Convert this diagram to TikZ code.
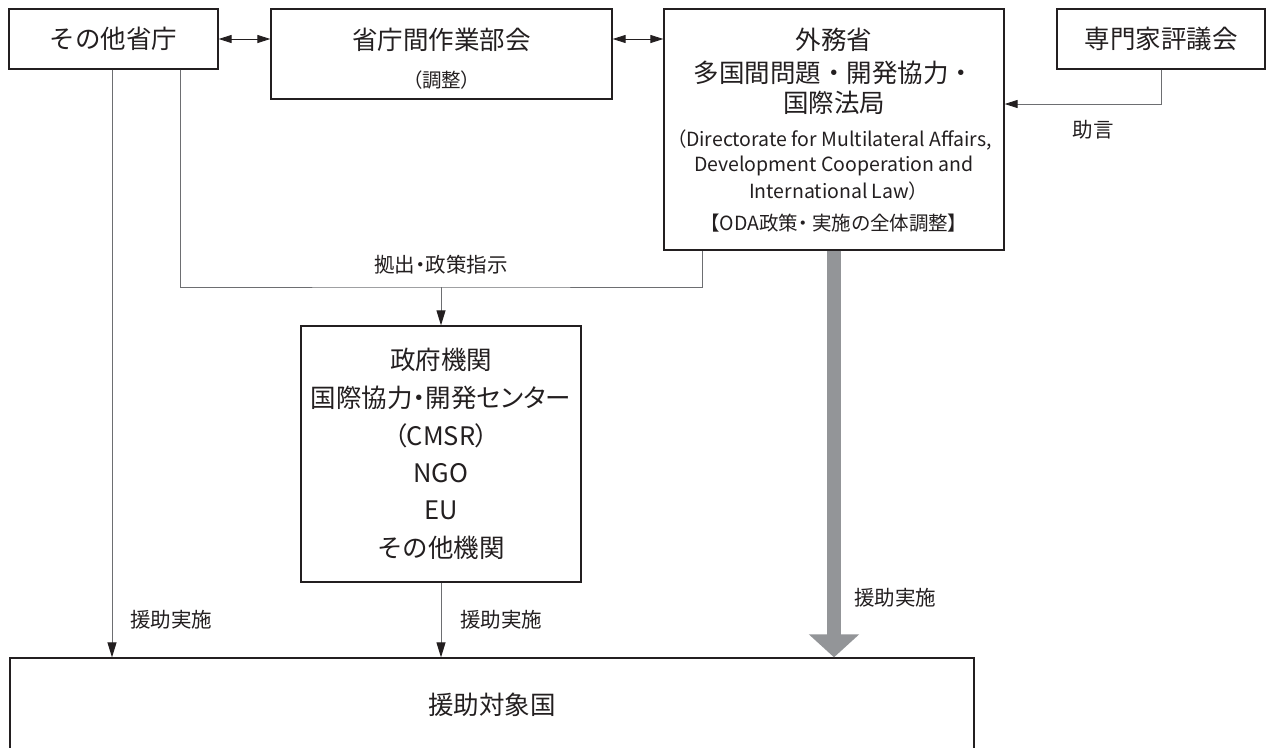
\documentclass[tikz,border=0pt]{standalone}
\usepackage{fontspec}
\setmainfont{Noto Sans CJK JP}
\newfontfamily\pfont[RawFeature=+palt]{Noto Sans CJK JP}
\usetikzlibrary{arrows.meta}
\definecolor{ink}{HTML}{231F20}
\definecolor{linegray}{HTML}{6D6E71}
\definecolor{bargray}{HTML}{939598}
\tikzset{
  boxnode/.style={draw=ink, line width=1.3pt, inner sep=0pt, fill=white},
  bigtxt/.style={text=ink, inner sep=0pt, font=\fontsize{25.5}{30}\selectfont},
  midtxt/.style={text=ink, inner sep=0pt, font=\pfont\fontsize{19.5}{24}\selectfont},
  smalltxt/.style={text=ink, inner sep=0pt, font=\pfont\fontsize{19.5}{22}\selectfont},
  lbltxt/.style={text=ink, inner sep=0pt, font=\pfont\fontsize{20.5}{24}\selectfont},
  conn/.style={draw=linegray, line width=0.9pt},
  arr/.style={conn, -{Triangle[length=15pt,width=9pt,color=ink]}},
  dblarr/.style={draw=ink, line width=0.9pt, {Triangle[length=13pt,width=8pt]}-{Triangle[length=13pt,width=8pt]}},
  bigarr/.style={draw=bargray, line width=14pt, -{Triangle[length=23pt,width=49pt]}}
}
\begin{document}
\begin{tikzpicture}[x=1pt,y=-1pt]
\useasboundingbox (0,0) rectangle (1266,747);
\clip (0,0) rectangle (1266,747);
\fill[white] (0,0) rectangle (1266,747);

% boxes
\node[boxnode, minimum width=209pt, minimum height=60pt] (other) at (113.5,39) {};
\node[boxnode, minimum width=341pt, minimum height=90pt] (wg) at (441.5,54) {};
\node[boxnode, minimum width=340pt, minimum height=241pt] (mofa) at (834,129.5) {};
\node[boxnode, minimum width=208pt, minimum height=60pt] (expert) at (1161,39) {};
\node[boxnode, minimum width=280pt, minimum height=256pt] (cmsr) at (441,454) {};
\node[boxnode, minimum width=964pt, minimum height=160pt] (recip) at (492,738) {};

% texts
\node[bigtxt] (t1) at (113.5,39) {その他省庁};
\node[bigtxt] (t2) at (441.5,40) {省庁間作業部会};
\node[smalltxt] (t3) at (441.5,80) {（調整）};
\node[bigtxt] (t4) at (1161,39) {専門家評議会};

\node[bigtxt] (m1) at (834,40) {外務省};
\node[bigtxt] (m2) at (834,73) {多国間問題・開発協力・};
\node[bigtxt] (m3) at (834,103) {国際法局};
\node[midtxt] (m4) at (834,140) {（Directorate for Multilateral Affairs,};
\node[midtxt] (m5) at (834,166) {Development Cooperation and};
\node[midtxt] (m6) at (834,191) {International Law）};
\node[midtxt] (m7) at (834,223) {【ODA政策・ 実施の全体調整】};

\node[bigtxt] (c1) at (441,360) {政府機関};
\node[bigtxt, font=\pfont\fontsize{25.5}{30}\selectfont] (c2) at (441,398) {国際協力・開発センター};
\node[bigtxt, font=\pfont\fontsize{25.5}{30}\selectfont] (c3) at (441,436) {（CMSR）};
\node[bigtxt] (c4) at (441,473) {NGO};
\node[bigtxt] (c5) at (441,510) {EU};
\node[bigtxt] (c6) at (441,548) {その他機関};

\node[bigtxt] (r1) at (492,705) {援助対象国};

% connectors
\draw[dblarr] (other.east) -- (other.east -| wg.west);
\draw[dblarr] (wg.east |- other.east) -- (mofa.west |- other.east);

\coordinate (adv) at (1161,104);
\draw[conn, -{Triangle[length=13pt,width=8pt,color=ink]}] (expert.south) -- (adv) -- (adv -| mofa.east);
\node[lbltxt] (l1) at (1093,130) {助言};

\coordinate (junc) at (441,287);
\draw[conn] ([xshift=66.5pt]other.south) |- (junc) -| ([xshift=-132pt]mofa.south);
\node[lbltxt] (l2) at (441,265) {拠出・政策指示};
\draw[arr] (junc) -- (cmsr.north);

\draw[arr] ([xshift=-1.5pt]other.south) -- ([xshift=-1.5pt]other.south |- recip.north);
\draw[arr] (cmsr.south) -- (cmsr.south |- recip.north);
\draw[bigarr] (mofa.south) -- (mofa.south |- recip.north);

\node[lbltxt] (l3) at (171,620) {援助実施};
\node[lbltxt] (l4) at (501,620) {援助実施};
\node[lbltxt] (l5) at (895,598) {援助実施};
\end{tikzpicture}
\end{document}
